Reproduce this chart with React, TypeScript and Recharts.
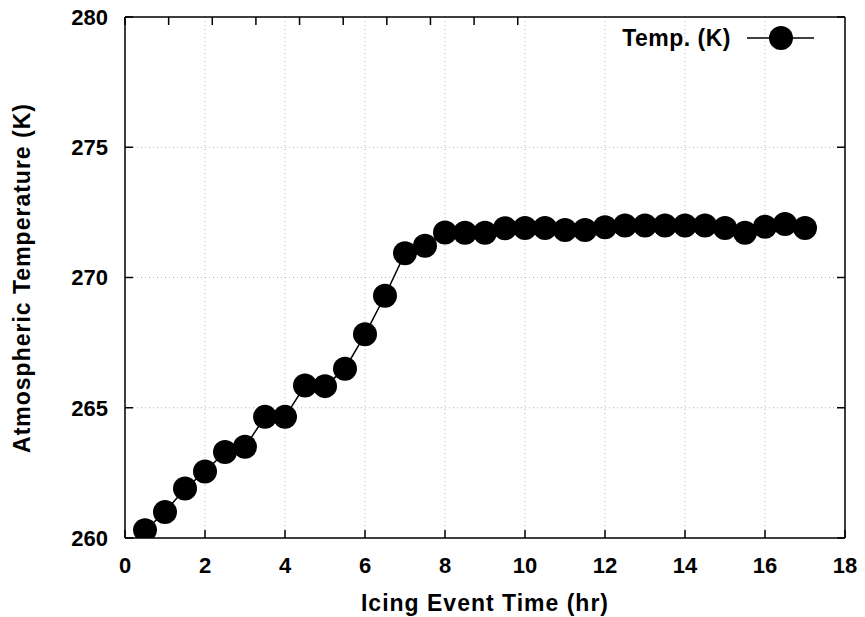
import React from "react";
import { LineChart, Line, XAxis, YAxis, CartesianGrid } from "recharts";

// hours since start of the icing event
const times = [
  0.5, 1, 1.5, 2, 2.5, 3, 3.5, 4, 4.5, 5, 5.5, 6, 6.5, 7, 7.5, 8, 8.5, 9,
  9.5, 10, 10.5, 11, 11.5, 12, 12.5, 13, 13.5, 14, 14.5, 15, 15.5, 16, 16.5, 17
];
// atmospheric temperature (K)
const temps = [
  260.3, 261.0, 261.9, 262.55, 263.3, 263.5, 264.65, 264.65, 265.85, 265.83,
  266.5, 267.82, 269.3, 270.93, 271.22, 271.73, 271.72, 271.72, 271.89, 271.9,
  271.9, 271.82, 271.82, 271.93, 272.0, 272.0, 272.0, 272.0, 272.0, 271.9,
  271.72, 271.95, 272.05, 271.9
];
const xTicks = [0, 2, 4, 6, 8, 10, 12, 14, 16, 18];
const yTicks = [260, 265, 270, 275, 280];

const data = times.map((t, i) => ({ time: t, temp: temps[i] }));

const font = '"Liberation Sans", Arial, Helvetica, sans-serif';
const tickFont = { fill: "#000", fontSize: 22, fontWeight: "bold", fontFamily: font };
const labelStyle = { fill: "#000", fontSize: 23, fontWeight: "bold", fontFamily: font, letterSpacing: 1 };
const TICK_LEN = 8;
const BOTTOM_GAP = 19;
const LEFT_GAP = 17;

// gnuplot style: tick marks point into the plot box
function BottomTick({ x, y, payload }: any) {
  return (
    <g>
      <line x1={x} x2={x} y1={y - BOTTOM_GAP} y2={y - BOTTOM_GAP - TICK_LEN} stroke="#000" strokeWidth={1.5} />
      <text x={x} y={y} dy="0.71em" textAnchor="middle" style={tickFont}>
        {payload.value}
      </text>
    </g>
  );
}

function TopTick({ x, y }: any) {
  return <line x1={x} x2={x} y1={y} y2={y + TICK_LEN} stroke="#000" strokeWidth={1.5} />;
}

function LeftTick({ x, y, payload }: any) {
  return (
    <g>
      <line x1={x + LEFT_GAP} x2={x + LEFT_GAP + TICK_LEN} y1={y} y2={y} stroke="#000" strokeWidth={1.5} />
      <text x={x} y={y} dy="0.36em" textAnchor="end" style={tickFont}>
        {payload.value}
      </text>
    </g>
  );
}

function RightTick({ x, y }: any) {
  return <line x1={x} x2={x - TICK_LEN} y1={y} y2={y} stroke="#000" strokeWidth={1.5} />;
}

function LegendBox() {
  return (
    <div
      style={{
        position: "absolute",
        top: 25,
        right: 51,
        display: "flex",
        alignItems: "center",
        height: 26
      }}
    >
      <span
        style={{
          fontFamily: font,
          fontWeight: "bold",
          fontSize: 23,
          letterSpacing: 0.5,
          color: "#000",
          marginRight: 16
        }}
      >
        Temp. (K)
      </span>
      <svg width={67} height={26}>
        <line x1={0} y1={13} x2={67} y2={13} stroke="#000" strokeWidth={1.5} />
        <circle cx={34} cy={13} r={12} fill="#000" />
      </svg>
    </div>
  );
}

export default function App() {
  return (
    <div style={{ position: "absolute", left: 0, top: 0, width: 865, height: 617, background: "#fff" }}>
      <LineChart
        width={865}
        height={617}
        data={data}
        margin={{ top: 16, right: 19, bottom: 0, left: 0 }}
      >
        <CartesianGrid
          xAxisId="bottom"
          yAxisId="left"
          stroke="#b4b4b4"
          strokeDasharray="1 3"
          verticalValues={xTicks}
          horizontalValues={yTicks}
        />
        <XAxis
          xAxisId="bottom"
          dataKey="time"
          type="number"
          domain={[0, 18]}
          ticks={xTicks}
          allowDataOverflow
          height={79}
          tickSize={0}
          tickMargin={BOTTOM_GAP}
          stroke="#000"
          strokeWidth={1.5}
          tickLine={false}
          tick={<BottomTick />}
          label={() => (
            <text x={485} y={603} textAnchor="middle" dominantBaseline="central" style={labelStyle}>
              Icing Event Time (hr)
            </text>
          )}
        />
        <XAxis
          xAxisId="top"
          orientation="top"
          type="number"
          domain={[0, 18]}
          ticks={xTicks}
          allowDataOverflow
          height={1}
          tickSize={0}
          tickMargin={0}
          stroke="#000"
          strokeWidth={1.5}
          tickLine={false}
          tick={<TopTick />}
        />
        <YAxis
          yAxisId="left"
          type="number"
          domain={[260, 280]}
          ticks={yTicks}
          allowDataOverflow
          width={125}
          tickSize={0}
          tickMargin={LEFT_GAP}
          stroke="#000"
          strokeWidth={1.5}
          tickLine={false}
          tick={<LeftTick />}
          label={() => (
            <text
              x={22}
              y={278}
              textAnchor="middle"
              dominantBaseline="central"
              transform="rotate(-90 22 278)"
              style={labelStyle}
            >
              Atmospheric Temperature (K)
            </text>
          )}
        />
        <YAxis
          yAxisId="right"
          orientation="right"
          type="number"
          domain={[260, 280]}
          ticks={yTicks}
          allowDataOverflow
          width={1}
          tickSize={0}
          tickMargin={0}
          stroke="#000"
          strokeWidth={1.5}
          tickLine={false}
          tick={<RightTick />}
        />
        <Line
          xAxisId="bottom"
          yAxisId="left"
          dataKey="temp"
          type="linear"
          stroke="#000"
          strokeWidth={1.5}
          dot={{ r: 12, fill: "#000", stroke: "#000", strokeWidth: 0 }}
          activeDot={false}
          isAnimationActive={false}
        />
      </LineChart>
      <LegendBox />
    </div>
  );
}
